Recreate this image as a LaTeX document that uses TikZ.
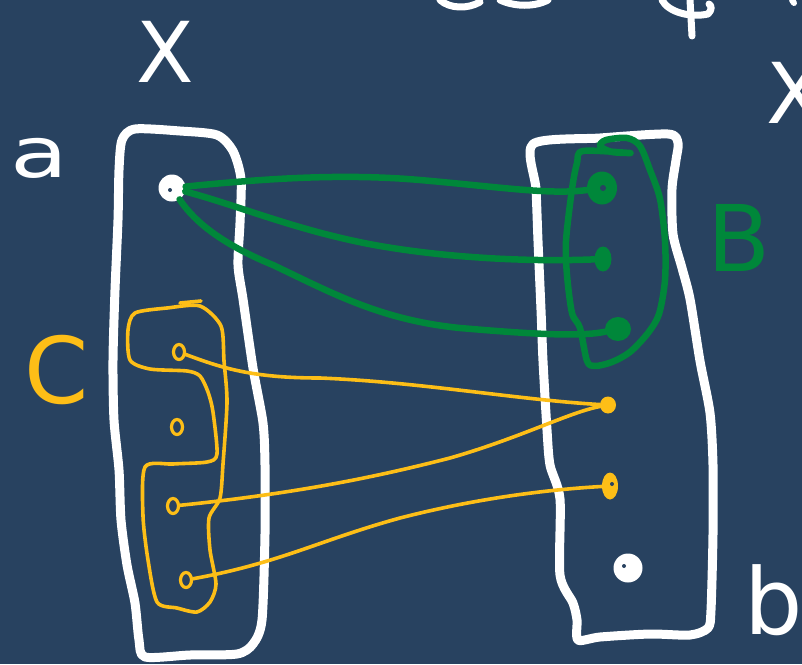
\documentclass[tikz,border=0pt]{standalone}
\usepackage{fontspec}
\setmainfont{DejaVu Sans}
\usetikzlibrary{shapes.geometric}
\definecolor{bg}{HTML}{284260}
\definecolor{gr}{HTML}{00873A}
\definecolor{yl}{HTML}{FDBE17}
\tikzset{
  wline/.style={draw=white,line width=9pt,line cap=round,line join=round},
  gline/.style={draw=gr,line width=6.5pt,line cap=round,line join=round},
  yline/.style={draw=yl,line width=3.6pt,line cap=round,line join=round},
  wdot/.style={circle,fill=white,inner sep=0pt,minimum size=27pt},
  gdot/.style={ellipse,fill=gr,inner sep=0pt},
  ydot/.style={ellipse,fill=yl,inner sep=0pt},
  yring/.style={ellipse,draw=yl,line width=3.2pt,inner sep=0pt,minimum width=11pt,minimum height=15pt},
  hole/.style={circle,fill=bg,inner sep=0pt,minimum size=4pt},
  lab/.style={inner sep=0pt,font=\fontsize{84}{84}\selectfont}
}
\begin{document}
\begin{tikzpicture}[x=1pt,y=-1pt]
\fill[bg] (0,0) rectangle (802,664);
\useasboundingbox (0,0) rectangle (802,664);

% cut-off strokes at the top edge
\draw[wline,line width=7pt] (440,0) .. controls (450,9) and (468,9) .. (480,2);
\draw[wline,line width=7pt] (500,0) .. controls (515,7) and (535,7) .. (548,0);
\draw[wline,line width=7pt] (662,0) .. controls (668,12) and (690,18) .. (708,14) .. controls (712,10) and (712,6) .. (709,4);
\draw[wline,line width=7pt] (690,0) -- (692,36);
\draw[wline,line width=6pt] (792,0) -- (794,3);

% labels
\node[lab,text=white] (lX) at (165,52) {X};
\node[lab,text=white] (lX2) at (795,93) {X};
\node[lab,text=white,font=\fontsize{70}{70}\selectfont,xscale=1.35] (la) at (39,158) {a};
\node[lab,text=yl,font=\fontsize{92}{92}\selectfont] (lC) at (57,370) {C};
\node[lab,text=gr,font=\fontsize{92}{92}\selectfont] (lB) at (739,238) {B};
\node[lab,text=white,font=\fontsize{92}{92}\selectfont] (lb) at (774,600) {b};

% left set
\draw[wline] plot[smooth cycle,tension=0.45] coordinates {
 (122,140) (135,129) (180,131) (217,135) (233,151) (241,179) (240,223)
 (238,265) (243,299) (253,368) (263,423) (265,465) (265,534) (262,620)
 (253,644) (237,654) (190,655) (145,657) (139,640) (135,603) (127,565)
 (121,520) (119,470) (114,420) (113,360) (115,290) (118,220) (119,170)};

% right set
\draw[wline] plot[smooth cycle,tension=0.45] coordinates {
 (533,144) (600,138) (668,134) (678,143) (676,160) (672,189) (673,234)
 (682,268) (690,299) (700,361) (710,413) (713,465) (713,534) (711,610)
 (708,628) (690,635) (650,634) (600,637) (578,640) (577,620) (573,603)
 (560,575) (560,499) (550,465) (547,430) (543,361) (541,310) (538,241)
 (536,189)};

% set B (green loop)
\draw[gline] plot[smooth cycle,tension=0.5] coordinates {
 (630,153) (583,151) (577,163) (572,189) (566,241) (567,275) (572,313)
 (580,328) (587,361) (595,366) (612,362) (630,352) (648,333) (659,314)
 (665,280) (665,241) (660,199) (650,170) (640,146) (627,138) (606,140)
 (600,146) (612,152)};

% set C (yellow loop)
\draw[yline] (180,303) -- (201,301);
\draw[yline] plot[smooth cycle,tension=0.45] coordinates {
 (200,306) (167,308) (135,313) (128,330) (130,360) (150,369) (187,371)
 (200,376) (208,392) (213,412) (217,454) (207,462) (173,464) (145,467)
 (143,516) (148,560) (157,602) (177,608) (197,612) (210,602) (216,584)
 (210,550) (209,518) (220,498) (223,464) (227,402) (224,361) (221,326)};

% points of the left set
\node[wdot] (a) at (172,188) {};
\node[hole] at (170,190) {};
\node[yring] (c1) at (179,352) {};
\node[yring] (c2) at (177,427) {};
\node[yring] (c3) at (173,506) {};
\node[yring] (c4) at (186,580) {};

% points of the right set
\node[gdot,minimum width=30pt,minimum height=33pt] (b1) at (602,188) {};
\node[hole,minimum size=6pt] at (603,188) {};
\node[gdot,minimum width=17pt,minimum height=25pt] (b2) at (603,259) {};
\node[gdot,minimum width=26pt,minimum height=24pt] (b3) at (618,329) {};
\node[ydot,minimum width=16pt,minimum height=17pt] (r1) at (608,405) {};
\node[ydot,minimum width=16pt,minimum height=27pt] (r2) at (610,486) {};
\node[hole,minimum size=4pt] at (612,484) {};
\node[wdot,minimum size=29pt] (w) at (628,568) {};
\node[hole] at (624,566) {};

% green connectors
\draw[gline] (a) .. controls (280,177) and (350,174) .. (420,180)
  .. controls (500,187) and (550,195) .. (b1);
\draw[gline] (a) .. controls (240,206) and (300,232) .. (380,246)
  .. controls (450,258) and (530,262) .. (b2);
\draw[gline] (a) .. controls (190,215) and (212,240) .. (273,265)
  .. controls (330,292) and (380,320) .. (460,328)
  .. controls (530,334) and (580,337) .. (b3);

% yellow connectors
\draw[yline] (c1) .. controls (222,368) and (252,378) .. (320,378)
  .. controls (420,382) and (520,400) .. (r1);
\draw[yline] (c3) .. controls (300,493) and (380,476) .. (450,458)
  .. controls (520,438) and (570,412) .. (r1);
\draw[yline] (c4) .. controls (280,563) and (320,540) .. (400,518)
  .. controls (470,500) and (540,490) .. (r2);
\end{tikzpicture}
\end{document}
